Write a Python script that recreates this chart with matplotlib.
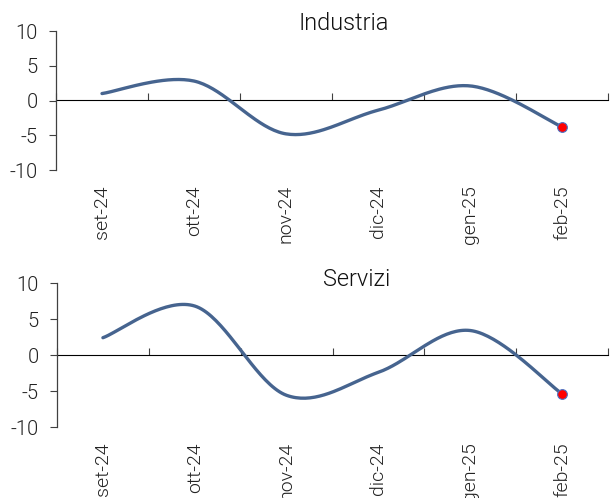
import numpy as np
import matplotlib.pyplot as plt

plt.rcParams['font.family'] = ['Roboto', 'DejaVu Sans']
plt.rcParams['font.weight'] = 300
plt.rcParams['axes.unicode_minus'] = False

mesi = ['set-24', 'ott-24', 'nov-24', 'dic-24', 'gen-25', 'feb-25']
industria = [1.0, 2.8, -4.8, -1.4, 2.1, -3.8]
servizi = [2.4, 6.8, -5.6, -2.4, 3.4, -5.4]

LINE_COL = '#46648f'
AX_COL = '#404040'


def smooth(x, y, n=40):
    # curva tipo "linea smussata" (Catmull-Rom)
    x = np.asarray(x, float)
    y = np.asarray(y, float)
    px = np.concatenate([[x[0]], x, [x[-1]]])
    py = np.concatenate([[y[0]], y, [y[-1]]])
    xs, ys = [], []
    t = np.linspace(0, 1, n)
    for i in range(1, len(px) - 2):
        for p, out in ((px, xs), (py, ys)):
            p0, p1, p2, p3 = p[i - 1], p[i], p[i + 1], p[i + 2]
            out.extend(0.5 * ((2 * p1) + (-p0 + p2) * t
                              + (2 * p0 - 5 * p1 + 4 * p2 - p3) * t ** 2
                              + (-p0 + 3 * p1 - 3 * p2 + p3) * t ** 3))
    return np.array(xs), np.array(ys)


def draw(ax, values, title, title_x, title_y):
    x = np.arange(len(values))
    sx, sy = smooth(x, values)
    ax.plot(sx, sy, color=LINE_COL, lw=2.4, solid_capstyle='round', zorder=3)
    ax.plot(x[-1], values[-1], 'o', ms=7, mfc='red', mec='#4a72c4', mew=0.8, zorder=4)
    ax.set_xlim(-0.5, len(values) - 0.5)
    ax.set_ylim(-10, 10)
    ax.set_yticks([-10, -5, 0, 5, 10])
    ax.set_xticks(x)
    ax.set_xticklabels(mesi, rotation=90)
    ax.tick_params(axis='x', length=0, pad=11, labelsize=14, colors='#222222')
    ax.tick_params(axis='y', length=5, width=0.8, color=AX_COL, pad=8,
                   labelsize=14.5, labelcolor='#222222')
    for s in ['top', 'right', 'bottom']:
        ax.spines[s].set_visible(False)
    ax.spines['left'].set_color(AX_COL)
    ax.spines['left'].set_linewidth(0.9)
    # linea dello zero con tacche tra le categorie
    sec = ax.secondary_xaxis(0.5)
    sec.set_xticks(np.arange(len(values) + 1) - 0.5)
    sec.set_xticklabels([])
    sec.tick_params(length=5, width=0.8, color=AX_COL, direction='out')
    sec.spines['bottom'].set_color('#222222')
    sec.spines['bottom'].set_linewidth(0.9)
    ax.figure.text(title_x, title_y, title, ha='center', va='center',
                   fontsize=17, color='#111111')


fig = plt.figure(figsize=(6.11, 4.98), dpi=100)
W, H = 611, 498
ax1 = fig.add_axes([56 / W, 1 - 170 / H, (608 - 56) / W, (170 - 31) / H])
ax2 = fig.add_axes([57 / W, 1 - 427 / H, (608 - 57) / W, (427 - 283) / H])

draw(ax1, industria, 'Industria', 344 / W, 1 - 24 / H)
draw(ax2, servizi, 'Servizi', 357 / W, 1 - 280 / H)

fig.savefig('out.png', dpi=100)
